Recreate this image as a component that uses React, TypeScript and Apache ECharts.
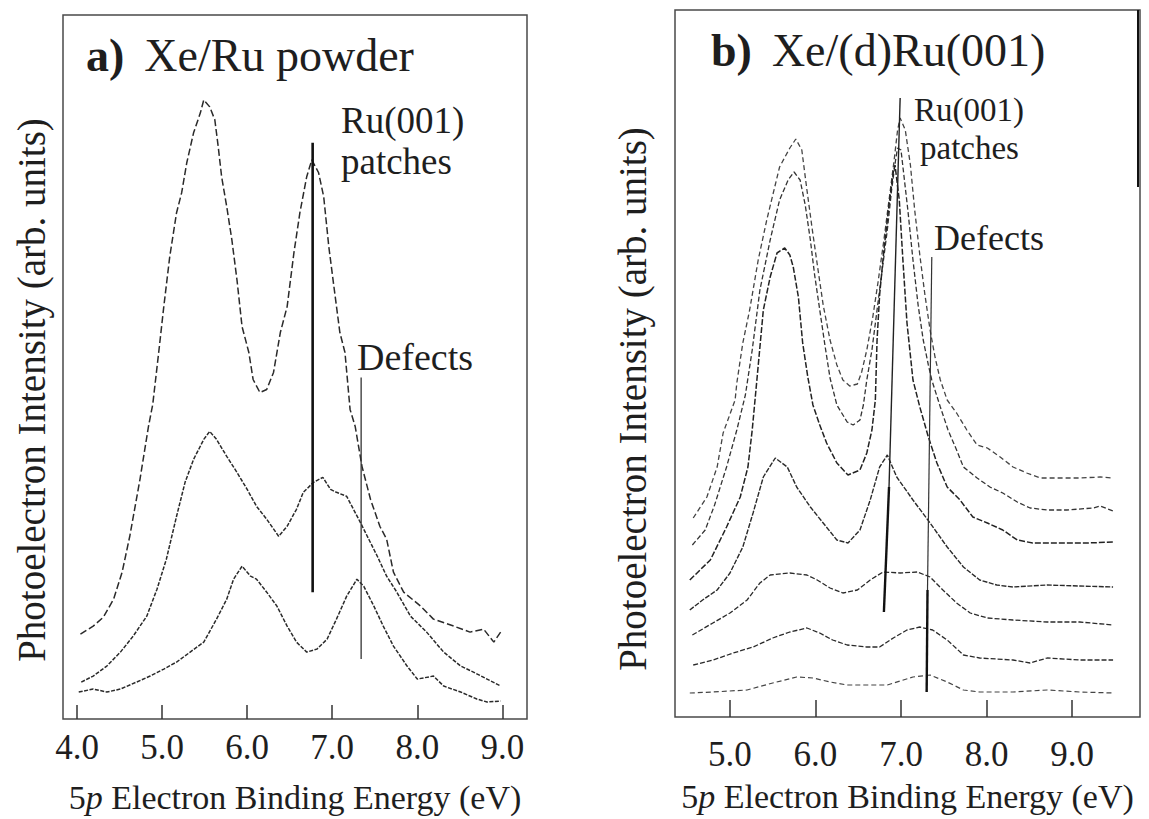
import React, { useEffect, useRef } from 'react';
import * as echarts from 'echarts';

// ---------- tick values ----------
const ticksA = [4, 5, 6, 7, 8, 9];
const ticksB = [5, 6, 7, 8, 9];

// ---------- panel a: Xe/Ru powder, [binding energy (eV), intensity (arb.)] ----------
const powderTop: number[][] = [
  [4.04, 0.85], [4.19, 0.93], [4.31, 1.02], [4.43, 1.2], [4.53, 1.47], [4.62, 1.83], [4.74, 2.4], [4.84, 2.93],
  [4.89, 3.15], [4.96, 3.67], [5.02, 4.13], [5.09, 4.63], [5.17, 5.07], [5.23, 5.27], [5.29, 5.57], [5.37, 5.87],
  [5.45, 6.07], [5.49, 6.2], [5.56, 6.13], [5.62, 6.0], [5.66, 5.73], [5.7, 5.43], [5.76, 5.13], [5.82, 4.8],
  [5.88, 4.4], [5.94, 3.93], [6.02, 3.67], [6.07, 3.4], [6.15, 3.27], [6.23, 3.3], [6.31, 3.47], [6.39, 3.87],
  [6.47, 4.13], [6.55, 4.67], [6.62, 5.07], [6.7, 5.43], [6.76, 5.6], [6.84, 5.47], [6.9, 5.23], [6.96, 4.73],
  [7.02, 4.33], [7.09, 3.87], [7.15, 3.67], [7.21, 3.1], [7.27, 2.93], [7.35, 2.53], [7.45, 2.2], [7.56, 1.93],
  [7.64, 1.8], [7.72, 1.47], [7.84, 1.27], [8.04, 1.13], [8.19, 1.0], [8.43, 0.93], [8.62, 0.87], [8.78, 0.9],
  [8.9, 0.77], [8.98, 0.87],
];
const powderMid: number[][] = [
  [4.05, 0.37], [4.19, 0.43], [4.35, 0.53], [4.51, 0.67], [4.66, 0.83], [4.82, 1.03], [4.94, 1.3], [5.05, 1.6],
  [5.17, 2.03], [5.27, 2.37], [5.37, 2.6], [5.49, 2.8], [5.56, 2.88], [5.64, 2.8], [5.76, 2.63], [5.88, 2.47],
  [6.0, 2.3], [6.11, 2.13], [6.23, 2.0], [6.37, 1.83], [6.47, 1.93], [6.58, 2.1], [6.66, 2.27], [6.78, 2.37],
  [6.89, 2.42], [6.98, 2.3], [7.05, 2.27], [7.17, 2.23], [7.25, 2.1], [7.33, 1.97], [7.43, 1.8], [7.53, 1.63],
  [7.64, 1.43], [7.76, 1.27], [7.92, 1.03], [8.11, 0.87], [8.31, 0.67], [8.51, 0.53], [8.66, 0.47], [8.82, 0.4],
  [8.98, 0.33],
];
const powderLow: number[][] = [
  [4.02, 0.27], [4.19, 0.3], [4.35, 0.27], [4.51, 0.3], [4.7, 0.37], [4.86, 0.43], [5.02, 0.5], [5.17, 0.57],
  [5.33, 0.67], [5.49, 0.77], [5.64, 1.0], [5.76, 1.2], [5.84, 1.4], [5.94, 1.53], [6.04, 1.43], [6.11, 1.4],
  [6.23, 1.27], [6.35, 1.13], [6.47, 0.93], [6.58, 0.77], [6.7, 0.67], [6.82, 0.7], [6.94, 0.8], [7.05, 1.0],
  [7.17, 1.23], [7.29, 1.4], [7.37, 1.33], [7.49, 1.13], [7.6, 0.93], [7.72, 0.73], [7.88, 0.53], [8.0, 0.4],
  [8.19, 0.43], [8.31, 0.33], [8.51, 0.27], [8.7, 0.2], [8.82, 0.17], [8.98, 0.18],
];
const markerA_ru: number[][] = [[6.77, 5.77], [6.77, 1.27]];
const markerA_def: number[][] = [[7.34, 3.42], [7.34, 0.6]];

// ---------- panel b: Xe/(d)Ru(001) ----------
const ruB1: number[][] = [
  [4.57, 1.99], [4.73, 2.2], [4.85, 2.5], [4.92, 2.84], [5.06, 3.17], [5.08, 3.34], [5.15, 3.74], [5.23, 4.07],
  [5.33, 4.57], [5.43, 4.97], [5.58, 5.5], [5.7, 5.69], [5.77, 5.78], [5.84, 5.67], [5.9, 5.27], [5.96, 4.89],
  [6.03, 4.47], [6.09, 4.12], [6.17, 3.77], [6.25, 3.52], [6.32, 3.37], [6.4, 3.31], [6.49, 3.33], [6.54, 3.45],
  [6.6, 3.67], [6.67, 4.0], [6.73, 4.34], [6.8, 4.77], [6.86, 5.17], [6.92, 5.57], [6.96, 5.87], [6.99, 5.99],
  [7.05, 5.87], [7.11, 5.52], [7.16, 5.07], [7.22, 4.62], [7.28, 4.22], [7.34, 3.87], [7.4, 3.59], [7.46, 3.37],
  [7.54, 3.17], [7.65, 3.04], [7.77, 2.87], [7.89, 2.72], [8.01, 2.69], [8.16, 2.6], [8.31, 2.5], [8.47, 2.44],
  [8.63, 2.39], [8.86, 2.39], [9.09, 2.39], [9.33, 2.4], [9.48, 2.39],
];
const ruB2: number[][] = [
  [4.56, 1.72], [4.71, 1.87], [4.82, 2.12], [4.96, 2.5], [5.08, 2.87], [5.18, 3.22], [5.26, 3.67], [5.35, 4.27],
  [5.47, 4.77], [5.58, 5.17], [5.68, 5.37], [5.75, 5.45], [5.82, 5.37], [5.88, 5.12], [5.94, 4.77], [5.99, 4.42],
  [6.05, 4.07], [6.11, 3.72], [6.17, 3.39], [6.25, 3.12], [6.37, 2.95], [6.44, 2.92], [6.52, 2.97], [6.56, 3.12],
  [6.6, 3.37], [6.66, 3.67], [6.72, 4.07], [6.78, 4.47], [6.84, 4.87], [6.89, 5.27], [6.94, 5.59], [6.96, 5.69],
  [7.0, 5.67], [7.02, 5.52], [7.08, 5.07], [7.14, 4.57], [7.2, 4.12], [7.26, 3.77], [7.32, 3.52], [7.36, 3.37],
  [7.46, 3.1], [7.55, 2.87], [7.65, 2.67], [7.73, 2.5], [7.89, 2.39], [8.04, 2.3], [8.19, 2.24], [8.36, 2.15],
  [8.51, 2.09], [8.71, 2.07], [8.94, 2.07], [9.25, 2.09], [9.33, 2.11], [9.48, 2.06],
];
const ruB3: number[][] = [
  [4.53, 1.37], [4.77, 1.57], [4.96, 1.9], [5.12, 2.2], [5.21, 2.5], [5.26, 2.87], [5.32, 3.42], [5.39, 4.07],
  [5.47, 4.4], [5.55, 4.64], [5.64, 4.69], [5.7, 4.62], [5.74, 4.5], [5.8, 4.2], [5.85, 3.74], [5.91, 3.4],
  [5.97, 3.12], [6.05, 2.92], [6.13, 2.74], [6.25, 2.54], [6.38, 2.42], [6.52, 2.47], [6.6, 2.64], [6.66, 2.87],
  [6.7, 3.17], [6.72, 3.77], [6.75, 4.22], [6.8, 4.67], [6.86, 5.12], [6.91, 5.45], [6.93, 5.52], [6.98, 5.17],
  [7.02, 4.6], [7.07, 3.94], [7.14, 3.37], [7.22, 3.1], [7.32, 2.8], [7.42, 2.54], [7.54, 2.3], [7.69, 2.17],
  [7.84, 2.0], [8.01, 1.94], [8.19, 1.87], [8.36, 1.77], [8.54, 1.74], [8.86, 1.74], [9.18, 1.74], [9.48, 1.75],
];
const ruB4: number[][] = [
  [4.53, 1.07], [4.68, 1.17], [4.85, 1.27], [5.0, 1.44], [5.15, 1.7], [5.27, 2.04], [5.39, 2.4], [5.53, 2.59],
  [5.67, 2.5], [5.78, 2.3], [5.94, 2.1], [6.09, 1.94], [6.25, 1.77], [6.38, 1.74], [6.52, 1.87], [6.64, 2.17],
  [6.75, 2.5], [6.84, 2.62], [6.95, 2.4], [7.14, 2.17], [7.34, 1.94], [7.54, 1.7], [7.73, 1.5], [7.92, 1.37],
  [8.12, 1.32], [8.31, 1.3], [8.71, 1.32], [9.09, 1.31], [9.48, 1.3],
];
const ruB5: number[][] = [
  [4.56, 0.82], [4.8, 0.94], [5.0, 1.04], [5.2, 1.17], [5.35, 1.34], [5.47, 1.42], [5.7, 1.44], [5.9, 1.42],
  [6.02, 1.37], [6.17, 1.29], [6.32, 1.24], [6.49, 1.27], [6.64, 1.37], [6.79, 1.45], [6.99, 1.44], [7.19, 1.45],
  [7.34, 1.4], [7.49, 1.27], [7.65, 1.14], [7.81, 1.04], [8.01, 0.99], [8.31, 0.97], [8.71, 0.95], [9.09, 0.95],
  [9.48, 0.92],
];
const ruB6: number[][] = [
  [4.57, 0.52], [4.8, 0.57], [5.04, 0.64], [5.27, 0.7], [5.5, 0.79], [5.7, 0.85], [5.9, 0.89], [6.05, 0.84],
  [6.2, 0.77], [6.37, 0.72], [6.6, 0.7], [6.75, 0.7], [6.91, 0.79], [7.07, 0.87], [7.22, 0.9], [7.37, 0.87],
  [7.54, 0.77], [7.73, 0.62], [7.92, 0.59], [8.31, 0.57], [8.51, 0.54], [8.71, 0.59], [9.09, 0.57], [9.48, 0.57],
];
const ruB7: number[][] = [
  [4.53, 0.24], [4.8, 0.25], [5.2, 0.27], [5.5, 0.34], [5.78, 0.4], [5.97, 0.39], [6.17, 0.35], [6.37, 0.32],
  [6.6, 0.32], [6.84, 0.32], [7.14, 0.4], [7.34, 0.42], [7.54, 0.35], [7.73, 0.27], [7.92, 0.25], [8.31, 0.25],
  [8.71, 0.27], [9.09, 0.25], [9.48, 0.24],
];
const markerB_ruThin: number[][] = [[6.99, 6.19], [6.86, 2.3]];
const markerB_ruThick: number[][] = [[6.86, 2.3], [6.8, 1.05]];
const markerB_defThin: number[][] = [[7.36, 4.6], [7.31, 1.27]];
const markerB_defThick: number[][] = [[7.31, 1.27], [7.3, 0.25]];

const FONT = '"Liberation Serif", "Times New Roman", serif';
const INK = '#1e1e1e';

function curve(data: number[][], idx: number, dash: number[] | string, width = 1.4, color = '#2a2a2a') {
  return {
    type: 'line',
    xAxisIndex: idx,
    yAxisIndex: idx,
    data,
    showSymbol: false,
    silent: true,
    lineStyle: { color, width, type: dash },
  };
}
function marker(data: number[][], idx: number, width: number, color = '#111') {
  return {
    type: 'line',
    xAxisIndex: idx,
    yAxisIndex: idx,
    data,
    showSymbol: false,
    silent: true,
    lineStyle: { color, width, type: 'solid' },
  };
}

function xAxis(idx: number, min: number, max: number, ticks: number[], margin: number, nameGap: number, tickLen: number) {
  return {
    gridIndex: idx,
    type: 'value',
    min,
    max,
    axisLine: { show: false },
    splitLine: { show: false },
    axisTick: {
      show: true,
      inside: true,
      length: tickLen,
      customValues: ticks,
      lineStyle: { color: '#333', width: 1.5 },
    },
    axisLabel: {
      customValues: ticks,
      formatter: (v: number) => v.toFixed(1),
      fontFamily: FONT,
      fontSize: 35,
      color: INK,
      margin,
    },
    name: '{n|5}{i|p}{n| Electron Binding Energy (eV)}',
    nameLocation: 'middle',
    nameGap,
    nameTextStyle: {
      rich: {
        n: { fontFamily: FONT, fontSize: 34, color: INK },
        i: { fontFamily: FONT, fontSize: 34, color: INK, fontStyle: 'italic' },
      },
    },
  };
}

function label(text: string, x: number, y: number, size: number) {
  return {
    type: 'text',
    x,
    y,
    silent: true,
    style: { text, fontFamily: FONT, fontSize: size, fill: INK, align: 'left', verticalAlign: 'middle' },
  };
}
function title(lead: string, rest: string, x: number, y: number) {
  return {
    type: 'text',
    x,
    y,
    silent: true,
    style: {
      text: `{b|${lead}}{n|${rest}}`,
      align: 'left',
      verticalAlign: 'middle',
      rich: {
        b: { fontFamily: FONT, fontSize: 46, fontWeight: 'bold', fill: INK, padding: [0, 20, 0, 0] },
        n: { fontFamily: FONT, fontSize: 46, fill: INK },
      },
    },
  };
}
function yTitle(x: number, y: number) {
  return {
    type: 'text',
    x,
    y,
    rotation: Math.PI / 2,
    silent: true,
    style: {
      text: 'Photoelectron Intensity (arb. units)',
      fontFamily: FONT,
      fontSize: 39,
      fill: INK,
      align: 'center',
      verticalAlign: 'middle',
    },
  };
}

export default function App() {
  const ref = useRef<HTMLDivElement>(null);
  useEffect(() => {
    document.body.style.margin = '0';
    const chart = echarts.init(ref.current!, null, { renderer: 'svg' });
    const option: any = {
      animation: false,
      backgroundColor: '#ffffff',
      grid: [
        { left: 63, top: 15, width: 464, height: 705, show: true, borderColor: '#4a4a4a', borderWidth: 1.5, backgroundColor: 'transparent' },
        { left: 675, top: 10, width: 465, height: 707, show: true, borderColor: '#4a4a4a', borderWidth: 1.5, backgroundColor: 'transparent' },
      ],
      xAxis: [
        xAxis(0, 3.835, 9.29, ticksA, 11, 61, 14),
        xAxis(1, 4.357, 9.795, ticksB, 20, 62, 17),
      ],
      yAxis: [
        { gridIndex: 0, type: 'value', min: 0, max: 7.05, show: false },
        { gridIndex: 1, type: 'value', min: 0, max: 7.07, show: false },
      ],
      series: [
        curve(powderTop, 0, [7, 3], 1.5),
        curve(powderMid, 0, [4, 1.5], 1.5),
        curve(powderLow, 0, [4, 1.5], 1.5),
        marker(markerA_ru, 0, 2.6),
        marker(markerA_def, 0, 1.3, '#333'),
        curve(ruB1, 1, [5, 3], 1.3, '#444'),
        curve(ruB2, 1, [5, 2.5], 1.3, '#333'),
        curve(ruB3, 1, [6, 2], 1.5, '#222'),
        curve(ruB4, 1, [5, 1.5], 1.4),
        curve(ruB5, 1, [5, 2], 1.3),
        curve(ruB6, 1, [5, 2], 1.3),
        curve(ruB7, 1, [5, 3], 1.2, '#444'),
        marker(markerB_ruThin, 1, 1.4, '#222'),
        marker(markerB_ruThick, 1, 2.4),
        marker(markerB_defThin, 1, 1.2, '#333'),
        marker(markerB_defThick, 1, 2.4),
      ],
      graphic: [
        title('a)', 'Xe/Ru powder', 86, 55),
        title('b)', 'Xe/(d)Ru(001)', 711, 50),
        label('Ru(001)', 341, 120, 37),
        label('patches', 341, 161, 37),
        label('Defects', 357, 357, 38),
        label('Ru(001)', 914, 110, 33),
        label('patches', 920, 148, 33),
        label('Defects', 934, 238, 36),
        yTitle(31, 390),
        yTitle(632, 399),
        { type: 'line', silent: true, shape: { x1: 1138, y1: 10, x2: 1138, y2: 187 }, style: { stroke: '#111', lineWidth: 2 } },
      ],
    };
    chart.setOption(option);
    return () => chart.dispose();
  }, []);
  return <div ref={ref} style={{ width: 1149, height: 819 }} />;
}
